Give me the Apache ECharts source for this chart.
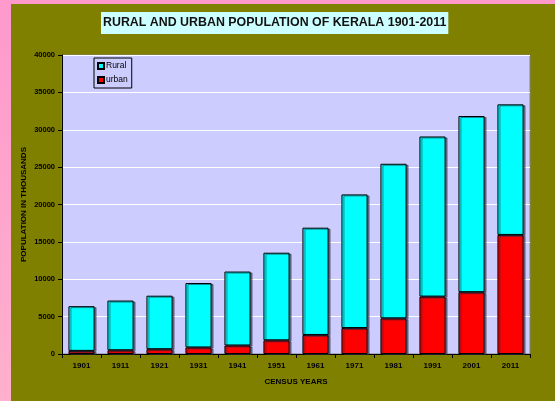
<!DOCTYPE html>
<html>
<head>
<meta charset="utf-8">
<script src="https://cdn.jsdelivr.net/npm/echarts@6/dist/echarts.min.js"></script>
<style>
  html, body { margin: 0; padding: 0; width: 555px; height: 401px; overflow: hidden;
    background: linear-gradient(#ff99cc, #ffb0cc); }
  #chart { position: absolute; left: 11px; top: 4px; width: 544px; height: 397px; background: #808000; }
</style>
</head>
<body>
<div id="chart"></div>
<script>
const years = ['1901','1911','1921','1931','1941','1951','1961','1971','1981','1991','2001','2011'];
const urban = [420, 500, 640, 880, 1140, 1830, 2550, 3470, 4770, 7680, 8270, 15930];
const rural = [5980, 6650, 7160, 8620, 9890, 11720, 14350, 17880, 20680, 21420, 23570, 17470];
const yTicks = [0, 5000, 10000, 15000, 20000, 25000, 30000, 35000, 40000];

const FONT = '"Liberation Sans", Arial, sans-serif';
const chart = echarts.init(document.getElementById('chart'));
const barStyle = (c) => ({
  color: c, borderColor: '#000', borderWidth: 1,
  shadowColor: 'rgba(40,40,60,0.55)', shadowOffsetX: 2, shadowOffsetY: 1, shadowBlur: 0
});
chart.setOption({
  animation: false,
  backgroundColor: '#808000',
  textStyle: { fontFamily: FONT },
  title: {
    text: 'RURAL AND URBAN POPULATION OF KERALA 1901-2011',
    left: 90, top: 8,
    padding: [5, 2],
    backgroundColor: '#ccffff',
    textStyle: { fontFamily: FONT, fontSize: 12.4, fontWeight: 'bold', color: '#111' }
  },
  legend: {
    orient: 'vertical', left: 83, top: 54,
    padding: [3, 4, 3, 3],
    itemWidth: 6, itemHeight: 6, itemGap: 4,
    borderColor: '#000', borderWidth: 1, borderRadius: 0,
    backgroundColor: '#ccccff',
    icon: 'rect',
    data: ['Rural', 'urban'],
    textStyle: { fontFamily: FONT, fontSize: 8.5, color: '#000', padding: [0, 0, 0, -3], lineHeight: 10 }
  },
  grid: {
    left: 51, right: 25, top: 51, bottom: 47,
    containLabel: false, outerBoundsMode: 'none',
    show: true, backgroundColor: '#ccccff', borderColor: '#808080', borderWidth: 1
  },
  xAxis: {
    type: 'category', data: years,
    name: 'CENSUS YEARS', nameLocation: 'middle', nameGap: 24, nameMoveOverlap: false,
    nameTextStyle: { fontFamily: FONT, fontSize: 8, fontWeight: 'bold', color: '#000' },
    axisLine: { lineStyle: { color: '#000', width: 1 } },
    axisTick: { show: true, length: 4, lineStyle: { color: '#000' } },
    axisLabel: { fontFamily: FONT, fontSize: 8, fontWeight: 'bold', color: '#000', margin: 8 }
  },
  yAxis: {
    type: 'value', min: yTicks[0], max: yTicks[yTicks.length - 1], interval: yTicks[1] - yTicks[0],
    name: 'POPULATION IN THOUSANDS', nameLocation: 'middle', nameGap: 34, nameRotate: 90,
    nameMoveOverlap: false,
    nameTextStyle: { fontFamily: FONT, fontSize: 8, fontWeight: 'bold', color: '#000' },
    axisLine: { show: true, lineStyle: { color: '#000', width: 1 } },
    axisTick: { show: true, length: 4, lineStyle: { color: '#000' } },
    axisLabel: { fontFamily: FONT, fontSize: 7.5, fontWeight: 'bold', color: '#000', margin: 7,
      formatter: (v) => String(v) },
    splitLine: { lineStyle: { color: '#ffffff', width: 1 } }
  },
  series: [
    { name: 'urban', type: 'bar', stack: 'pop', data: urban, barCategoryGap: '33%', itemStyle: barStyle('#ff0000') },
    { name: 'Rural', type: 'bar', stack: 'pop', data: rural, itemStyle: barStyle('#00ffff') }
  ]
});
</script>
</body>
</html>
